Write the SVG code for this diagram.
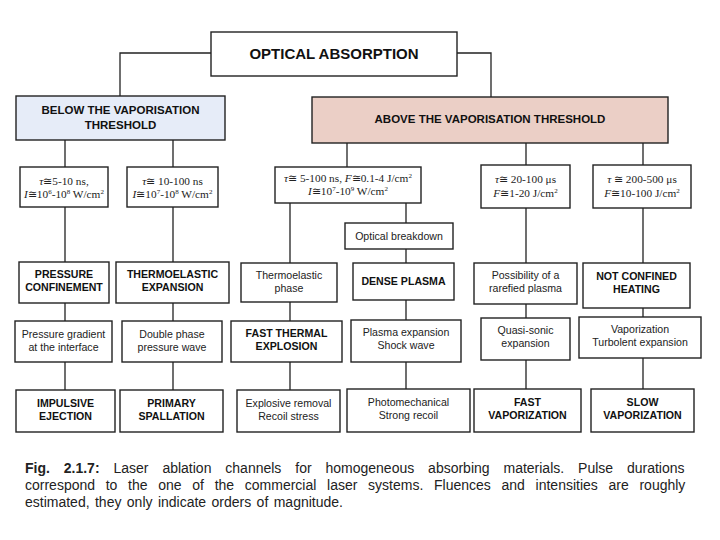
<svg xmlns="http://www.w3.org/2000/svg" width="720" height="540" viewBox="0 0 720 540">
<style>
rect{fill:#fff;stroke:#222;stroke-width:1.4}
.b{font-family:"Liberation Sans",Arial,sans-serif;font-weight:bold;font-size:10.6px;fill:#111;text-anchor:middle}
.r{font-family:"Liberation Sans",Arial,sans-serif;font-size:10.6px;fill:#222;text-anchor:middle}
.s{font-family:"Liberation Serif","Times New Roman",serif;font-size:11.3px;fill:#222;text-anchor:middle}
.cap{font-family:"Liberation Sans",Arial,sans-serif;font-size:14px;fill:#222}
#connectors path{fill:none;stroke:#222;stroke-width:1.3}
.sup{font-size:7px}
</style>
<rect x="0" y="0" width="720" height="540" style="fill:#fff;stroke:none"/>
<g id="connectors">
<path d="M211,53H120V96"/>
<path d="M457,53H491V97"/>
<path d="M65,140V167M65,207V262M65,303V321M65,362V390"/>
<path d="M173,140V167M173,207V262M173,303V321M173,362V390"/>
<path d="M347,143V167"/>
<path d="M290,203V263M290,302V321M290,362V390"/>
<path d="M406,203V223M406,249V263M406,300V320M406,362V389"/>
<path d="M526,143V165M526,208V263M526,304V318M526,360V389"/>
<path d="M643,143V165M643,208V263M643,308V317M643,358V389"/>
</g>
<g id="optical-absorption"><rect x="211" y="32" width="246" height="44"/><text x="334" y="59" class="b" style="font-size:15px">OPTICAL ABSORPTION</text></g>
<g id="below"><rect x="16" y="96" width="209" height="44" style="fill:#e6ecf8"/><text x="120.5" y="114" class="b" style="font-size:11.5px">BELOW THE VAPORISATION</text><text x="120.5" y="129" class="b" style="font-size:11.5px">THRESHOLD</text></g>
<g id="above"><rect x="312" y="97" width="356" height="46" style="fill:#ebcfc6"/><text x="490" y="123" class="b" style="font-size:11.5px">ABOVE THE VAPORISATION THRESHOLD</text></g>

<g id="tau1"><rect x="20" y="167" width="88" height="40"/><text x="64" y="185" class="s"><tspan font-style="italic">τ</tspan>≅5-10 ns,</text><text x="64" y="198" class="s"><tspan font-style="italic">I</tspan>≅10<tspan class="sup" dy="-4">6</tspan><tspan dy="4">-10</tspan><tspan class="sup" dy="-4">8</tspan><tspan dy="4"> W/cm</tspan><tspan class="sup" dy="-4">2</tspan></text></g>
<g id="tau2"><rect x="127" y="167" width="91" height="40"/><text x="172.5" y="185" class="s"><tspan font-style="italic">τ</tspan>≅ 10-100 ns</text><text x="172.5" y="198" class="s"><tspan font-style="italic">I</tspan>≅10<tspan class="sup" dy="-4">7</tspan><tspan dy="4">-10</tspan><tspan class="sup" dy="-4">8</tspan><tspan dy="4"> W/cm</tspan><tspan class="sup" dy="-4">2</tspan></text></g>
<g id="tau3"><rect x="275" y="167" width="146" height="36"/><text x="348" y="182" class="s"><tspan font-style="italic">τ</tspan>≅ 5-100 ns, <tspan font-style="italic">F</tspan>≅0.1-4 J/cm<tspan class="sup" dy="-4">2</tspan></text><text x="348" y="195" class="s"><tspan font-style="italic">I</tspan>≅10<tspan class="sup" dy="-4">7</tspan><tspan dy="4">-10</tspan><tspan class="sup" dy="-4">9</tspan><tspan dy="4"> W/cm</tspan><tspan class="sup" dy="-4">2</tspan></text></g>
<g id="tau4"><rect x="481" y="165" width="89" height="43"/><text x="525.5" y="183" class="s"><tspan font-style="italic">τ</tspan>≅ 20-100 μs</text><text x="525.5" y="197" class="s"><tspan font-style="italic">F</tspan>≅1-20 J/cm<tspan class="sup" dy="-4">2</tspan></text></g>
<g id="tau5"><rect x="593" y="165" width="98" height="43"/><text x="642" y="183" class="s"><tspan font-style="italic">τ</tspan> ≅ 200-500 μs</text><text x="642" y="197" class="s"><tspan font-style="italic">F</tspan>≅10-100 J/cm<tspan class="sup" dy="-4">2</tspan></text></g>
<g id="optical-breakdown"><rect x="345" y="223" width="108" height="26"/><text x="399" y="240" class="r">Optical breakdown</text></g>

<g id="pressure-confinement"><rect x="19" y="262" width="90" height="41"/><text x="64" y="278" class="b">PRESSURE</text><text x="64" y="291" class="b">CONFINEMENT</text></g>
<g id="thermoelastic-expansion"><rect x="116" y="262" width="113" height="41"/><text x="172.5" y="278" class="b">THERMOELASTIC</text><text x="172.5" y="291" class="b">EXPANSION</text></g>
<g id="thermoelastic-phase"><rect x="241" y="263" width="96" height="39"/><text x="289" y="279" class="r">Thermoelastic</text><text x="289" y="292" class="r">phase</text></g>
<g id="dense-plasma"><rect x="353" y="263" width="101" height="37"/><text x="403.5" y="285" class="b">DENSE PLASMA</text></g>
<g id="rarefied-plasma"><rect x="474" y="263" width="103" height="41"/><text x="525.5" y="279" class="r">Possibility of a</text><text x="525.5" y="292" class="r">rarefied plasma</text></g>
<g id="not-confined"><rect x="583" y="263" width="107" height="45"/><text x="636.5" y="280" class="b">NOT CONFINED</text><text x="636.5" y="293" class="b">HEATING</text></g>

<g id="pressure-gradient"><rect x="15" y="321" width="97" height="41"/><text x="63.5" y="338" class="r">Pressure gradient</text><text x="63.5" y="351" class="r">at the interface</text></g>
<g id="double-phase"><rect x="122" y="321" width="100" height="41"/><text x="172" y="338" class="r">Double phase</text><text x="172" y="351" class="r">pressure wave</text></g>
<g id="fast-thermal"><rect x="231" y="321" width="111" height="41"/><text x="286.5" y="337" class="b">FAST THERMAL</text><text x="286.5" y="350" class="b">EXPLOSION</text></g>
<g id="plasma-expansion"><rect x="351" y="320" width="110" height="42"/><text x="406" y="336" class="r">Plasma expansion</text><text x="406" y="349" class="r">Shock wave</text></g>
<g id="quasi-sonic"><rect x="481" y="318" width="89" height="42"/><text x="525.5" y="334" class="r">Quasi-sonic</text><text x="525.5" y="347" class="r">expansion</text></g>
<g id="vaporization"><rect x="579" y="317" width="122" height="41"/><text x="640" y="333" class="r">Vaporization</text><text x="640" y="346" class="r">Turbolent expansion</text></g>

<g id="impulsive-ejection"><rect x="16" y="390" width="99" height="42"/><text x="65.5" y="407" class="b">IMPULSIVE</text><text x="65.5" y="420" class="b">EJECTION</text></g>
<g id="primary-spallation"><rect x="120" y="390" width="103" height="42"/><text x="171.5" y="407" class="b">PRIMARY</text><text x="171.5" y="420" class="b">SPALLATION</text></g>
<g id="explosive-removal"><rect x="237" y="390" width="103" height="42"/><text x="288.5" y="407" class="r">Explosive removal</text><text x="288.5" y="420" class="r">Recoil stress</text></g>
<g id="photomechanical"><rect x="347" y="389" width="123" height="43"/><text x="408.5" y="406" class="r">Photomechanical</text><text x="408.5" y="419" class="r">Strong recoil</text></g>
<g id="fast-vaporization"><rect x="474" y="389" width="107" height="43"/><text x="527.5" y="406" class="b">FAST</text><text x="527.5" y="419" class="b">VAPORIZATION</text></g>
<g id="slow-vaporization"><rect x="591" y="389" width="103" height="43"/><text x="642.5" y="406" class="b">SLOW</text><text x="642.5" y="419" class="b">VAPORIZATION</text></g>

<g id="caption">
<text x="25" y="473" class="cap" style="word-spacing:10px"><tspan font-weight="bold">Fig. 2.1.7:</tspan> Laser ablation channels for homogeneous absorbing materials. Pulse durations</text>
<text x="25" y="490" class="cap" style="word-spacing:6.8px">correspond to the one of the commercial laser systems. Fluences and intensities are roughly</text>
<text x="25" y="507" class="cap" style="word-spacing:1.5px">estimated, they only indicate orders of magnitude.</text>
</g>
</svg>
